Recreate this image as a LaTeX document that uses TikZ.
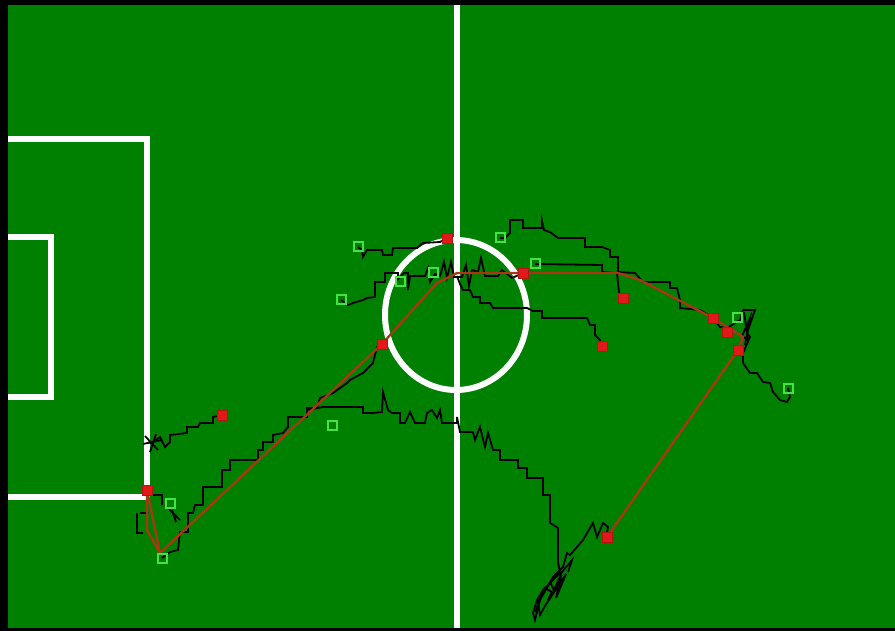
\documentclass[tikz,border=0pt]{standalone}
\usepackage{tikz}
\usetikzlibrary{calc, positioning}
\usepackage{xcolor}

\definecolor{pitch}{RGB}{0,128,0}
\definecolor{routered}{RGB}{170,55,20}
\definecolor{ballred}{RGB}{225,25,25}
\definecolor{robotgreen}{RGB}{70,225,70}

\tikzset{
	fieldline/.style={white, line width=6pt, line join=miter},
	track/.style={black, line width=1.8pt, line join=miter},
	route/.style={routered, line width=2.3pt},
	ballmark/.style={draw=ballred!80!black, fill=ballred, minimum size=10pt, inner sep=0pt, line width=0.8pt},
	robotmark/.style={draw=robotgreen, minimum size=9pt, inner sep=0pt, line width=2pt}
}

\begin{document}
\begin{tikzpicture}[x=1pt, y=-1pt]
	\useasboundingbox (0,0) rectangle (895,631);
	\fill[black] (0,0) rectangle (895,631);
	\fill[pitch] (8,5) rectangle (895,628);

	\draw[fieldline] (8,139) -- (147,139) -- (147,497) -- (8,497);
	\draw[fieldline] (8,237) -- (51,237) -- (51,397) -- (8,397);
	\draw[fieldline] (457,5) -- (457,628);
	\draw[fieldline] (456,315) ellipse [x radius=71, y radius=75];

	\foreach \name/\px/\py in {b1/147/490, b2/222/415, b3/382/344, b4/447/238,
		b5/523/273, b6/602/346, b7/623/298, b8/713/318,
		b9/738/350, b10/607/537, b11/727/332}{
		\coordinate (\name) at (\px,\py);
	}
	\foreach \name/\px/\py in {g1/358/247, g2/341/300, g3/400/282, g4/433/273,
		g5/500/238, g6/535/264, g7/737/318, g8/788/388,
		g9/332/425, g10/170/503, g11/162/558}{
		\coordinate (\name) at (\px,\py);
	}

	\draw[track] (g1) -- (362,250) -- (363,257) -- (367,250) -- (382,250) -- (383,255) -- (392,255)
		-- (393,248) -- (417,248) -- (423,243) -- (440,242) -- (b4);
	\draw[track] (g2) -- (348,305) -- (353,303) -- (363,300) -- (367,298) -- (375,297) -- (375,282)
		-- (385,282) -- (385,273) -- (398,273) -- (398,279) -- (404,273) -- (408,273) -- (408,290)
		-- (410,276) -- (425,276) -- (428,268) -- (430,282) -- (435,274) -- (440,276) -- (444,262)
		-- (447,278) -- (451,262) -- (454,277) -- (462,277) -- (466,265) -- (469,286) -- (472,270)
		-- (478,272) -- (481,258) -- (485,276) -- (498,276) -- (502,270) -- (512,278) -- (b5);
	\draw[track] (457,276) -- (460,284) -- (463,290) -- (470,290) -- (473,297) -- (480,297)
		-- (480,303) -- (490,303) -- (493,308) -- (527,308) -- (533,311) -- (542,311) -- (542,318)
		-- (587,318) -- (590,325) -- (595,325) -- (595,335) -- (600,340) -- (b6);
	\draw[track] (g5) -- (505,238) -- (510,233) -- (510,220) -- (523,220) -- (523,228) -- (542,228)
		-- (542,221) -- (544,230) -- (550,232) -- (558,238) -- (585,238) -- (585,247) -- (602,247)
		-- (610,250) -- (610,257) -- (618,257) -- (618,272) -- (635,273) -- (643,282) -- (670,282)
		-- (670,288) -- (677,288) -- (680,300) -- (680,308) -- (700,310) -- (713,318) -- (720,327)
		-- (727,328) -- (740,320) -- (743,310) -- (755,310) -- (747,333) -- (750,337) -- (743,353);
	\draw[track] (744,312) -- (748,340) -- (742,336) -- (750,318) -- (745,345);
	\draw[track] (g6) -- (602,265) -- (602,272) -- (617,273) -- (618,283) -- (620,300) -- (b7);
	\draw[track] (743,353) -- (743,363) -- (750,373) -- (757,373) -- (763,382) -- (770,383)
		-- (773,392) -- (780,400) -- (787,402) -- (790,397) -- (g8);
	\draw[track] (147,443) -- (153,442) -- (160,437) -- (165,447) -- (170,442) -- (170,435)
		-- (187,433) -- (187,427) -- (198,427) -- (200,423) -- (213,423) -- (213,417) -- (b2);
	\draw[track] (145,436) -- (158,450) (150,452) -- (156,434) (143,444) -- (162,440);
	\draw[track] (g11) -- (170,552) -- (178,550) -- (180,532) -- (188,532) -- (188,513) -- (193,513)
		-- (195,505) -- (203,505) -- (203,487) -- (222,487) -- (222,470) -- (230,470) -- (230,460)
		-- (258,460) -- (258,450) -- (263,450) -- (263,442) -- (273,442) -- (273,435) -- (283,433)
		-- (288,427) -- (288,417) -- (307,417) -- (307,408) -- (317,408) -- (320,398) -- (333,393)
		-- (347,383) -- (350,380) -- (363,373) -- (373,363) -- (377,347) -- (b3);
	\draw[track] (307,410) -- (323,407) -- (363,407) -- (363,413) -- (373,413) -- (382,412)
		-- (383,392) -- (388,410) -- (392,413) -- (400,413) -- (400,423) -- (405,423) -- (410,412)
		-- (415,423) -- (425,423) -- (427,413) -- (432,410) -- (437,418) -- (440,410) -- (442,423)
		-- (457,423) -- (457,417) -- (460,432) -- (473,432) -- (475,440) -- (480,427) -- (485,447)
		-- (488,433) -- (493,450) -- (500,450) -- (500,460) -- (518,460) -- (518,468) -- (527,468)
		-- (527,478) -- (543,478) -- (543,495) -- (550,495) -- (550,523) -- (558,528) -- (558,562)
		-- (560,573) -- (548,585) -- (543,590) -- (537,600) -- (533,613) -- (535,620) -- (540,600)
		-- (553,577) -- (563,567) -- (567,553) -- (570,555) -- (577,547) -- (583,540) -- (587,533)
		-- (593,523) -- (597,537) -- (603,523) -- (608,527) -- (605,543);
	\draw[track] (535,612) -- (545,588) -- (552,592) -- (548,600) -- (560,580) -- (556,598)
		-- (566,574) -- (545,606) -- (540,615) -- (538,602) -- (550,582) -- (554,590) -- (562,572)
		-- (572,560) -- (568,572);
	\draw[track] (137,513) -- (137,533) -- (143,533) (140,513) -- (148,513) (152,495) -- (162,495)
		-- (162,505) (165,505) -- (180,520) (172,510) -- (176,522);

	\draw[route] (b1) -- (160,553) -- (b3) -- (437,283) -- (457,273) -- (b5) -- (618,273)
		-- (640,280) -- (713,318) -- (743,337) -- (b9) -- (b10);
	\draw[route] (b1) -- (147,530) -- (160,553);

	\foreach \i in {1,...,11}{
		\node[ballmark] at (b\i) {};
		\node[robotmark] at (g\i) {};
	}
\end{tikzpicture}
\end{document}
